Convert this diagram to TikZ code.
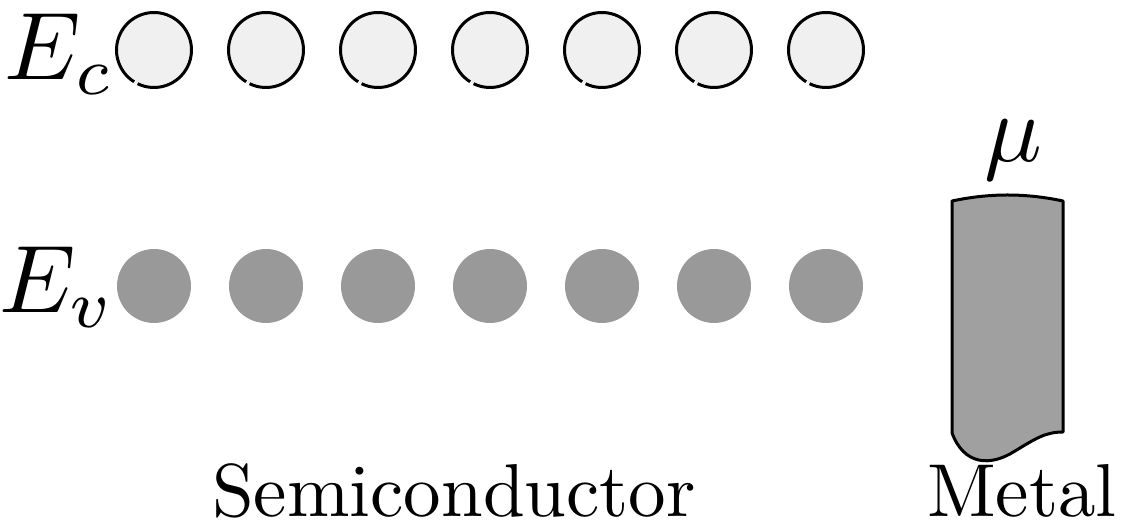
\RequirePackage{fix-cm}
\documentclass[tikz,border=0pt]{standalone}
\usetikzlibrary{calc}
\definecolor{emptystate}{HTML}{F0F0F0}
\definecolor{filledstate}{HTML}{999999}
\definecolor{metalfill}{HTML}{A0A0A0}
\newcommand{\bandsym}[1]{\scalebox{4.8}{$#1$}}
\newcommand{\captiontext}[1]{\scalebox{3.75}{#1}}
\tikzset{
  level/.style={inner sep=0pt},
  caption/.style={inner sep=0pt, anchor=base},
  emptyring/.style={draw=black, line width=1.5pt},
  fullring/.style={fill=filledstate},
  metalbar/.style={draw=black, line width=1.5pt, fill=metalfill, line join=round},
}
\begin{document}
\begin{tikzpicture}[x=0.5pt, y=0.5pt]
  \useasboundingbox (0,0) rectangle (1127,529);

  % conduction band states (empty) and valence band states (filled)
  \foreach \cx [count=\i] in {154,266,378,490,602,714,826} {
    \coordinate (c\i) at (\cx,479);
    \coordinate (v\i) at (\cx,243);
    \path[fill=emptystate] (c\i) circle[radius=37.5];
    \draw[emptyring] ($(c\i)+(244:37.5)$) arc[start angle=244, end angle=598, radius=37.5];
    \fill[fullring] ($(v\i)+(244:37)$) arc[start angle=244, end angle=598, radius=37];
  }

  % band labels
  \node[level, anchor=base east] (Ec) at (115,449) {\bandsym{E_c}};
  \node[level, anchor=base east] (Ev) at (116,216) {\bandsym{E_v}};

  % metal contact with a torn lower end
  \draw[metalbar] (952,96) -- (952,328)
     .. controls (990,336) and (1025,336) .. (1063,328)
     -- (1063,97)
     .. controls (1045,97) and (1035,90) .. (1015,78)
     .. controls (990,62) and (964,64) .. (952,96) -- cycle;
  \node[level, anchor=base] (mu) at (1013,367) {\bandsym{\mu}};

  % captions
  \node[caption] (semi) at (454,13) {\captiontext{Semiconductor}};
  \node[caption] (metal) at (1022,13) {\captiontext{Metal}};
\end{tikzpicture}
\end{document}
